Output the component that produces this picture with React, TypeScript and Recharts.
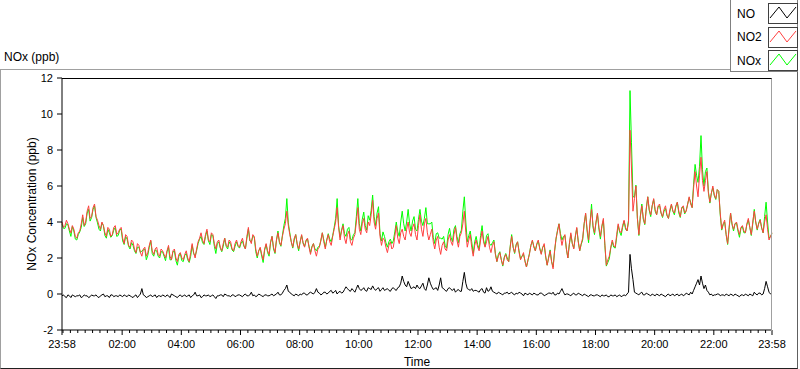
import { Line, LineChart, XAxis, YAxis } from "recharts";

// readings every 3 minutes after 23:58: the *_ON arrays sit on the 6-minute marks,
// the *_MID arrays on the 3-minute marks between them
const STEP = 3;

const NO2_ON = [
  4.0, 3.8, 3.9, 3.4, 3.6, 3.1, 3.5, 4.4, 4.0, 4.9, 4.3, 5.0, 4.1, 3.6, 3.8, 3.2, 3.6, 3.3, 3.8, 3.4,
  3.7, 2.8, 3.2, 2.6, 2.9, 2.3, 2.7, 2.1, 2.6, 2.3, 3.0, 2.2, 2.6, 2.1, 2.4, 2.0, 2.7, 1.9, 2.5, 1.8,
  2.3, 1.9, 2.4, 1.8, 2.8, 2.0, 2.9, 3.4, 2.8, 3.6, 2.9, 3.3, 2.5, 3.0, 2.4, 3.1, 2.6, 2.9, 2.4, 3.0,
  2.6, 3.1, 2.5, 3.7, 2.8, 3.2, 2.1, 2.6, 1.9, 2.8, 2.2, 3.2, 2.3, 3.4, 2.7, 3.6, 4.6, 3.3, 2.6, 3.3,
  2.5, 3.3, 2.6, 3.1, 2.2, 2.8, 2.1, 2.6, 3.4, 2.5, 3.3, 2.7, 3.6, 4.8, 3.0, 3.8, 2.8, 3.5, 2.7, 3.3,
  4.8, 3.3, 4.2, 3.4, 3.8, 5.2, 3.6, 4.5, 2.7, 3.0, 2.3, 2.9, 2.6, 3.8, 2.8, 3.6, 3.0, 4.0, 3.2, 3.9,
  3.0, 4.4, 3.2, 4.2, 3.0, 3.6, 2.5, 3.2, 2.2, 2.9, 2.4, 3.3, 2.7, 3.7, 2.6, 3.4, 4.6, 2.6, 3.3, 2.1,
  3.0, 2.4, 3.5, 2.6, 3.2, 2.3, 2.9, 1.8, 2.3, 1.6, 2.2, 1.8, 3.2, 2.3, 2.9, 1.9, 2.3, 1.5, 2.2, 3.0,
  2.4, 3.0, 2.2, 2.8, 1.6, 2.4, 1.4, 3.1, 3.9, 2.7, 3.3, 2.0, 3.4, 2.5, 3.7, 2.4, 3.1, 4.5, 3.0, 4.7,
  3.4, 4.5, 3.2, 4.2, 1.6, 2.1, 3.0, 2.6, 3.9, 3.4, 4.1, 3.5, 9.1, 4.6, 6.0, 3.3, 4.9, 3.9, 5.4, 4.4,
  5.3, 4.4, 5.0, 4.3, 4.9, 4.2, 5.0, 4.5, 5.1, 4.3, 4.9, 4.6, 5.4, 4.8, 6.8, 5.4, 7.6, 5.7, 6.8, 5.1,
  6.0, 5.3, 5.7, 3.6, 4.1, 2.8, 4.5, 3.6, 4.0, 3.3, 3.8, 3.4, 4.2, 3.3, 4.6, 3.6, 4.1, 3.4, 4.4, 3.0, 3.4,
];
const NO2_MID = [
  3.7, 4.1, 3.6, 3.8, 3.2, 3.4, 3.9, 3.8, 4.6, 4.2, 4.8, 4.3, 3.8, 4.0, 3.4, 3.7, 3.2, 3.7, 3.3, 3.6,
  3.1, 3.3, 2.7, 3.0, 2.5, 2.8, 2.3, 2.5, 2.1, 2.7, 2.4, 2.5, 2.2, 2.5, 2.2, 2.4, 2.1, 2.4, 2.0, 2.2,
  2.0, 2.2, 2.0, 2.3, 2.3, 2.5, 3.1, 3.0, 3.3, 3.0, 3.4, 2.8, 2.9, 2.6, 2.8, 2.7, 3.0, 2.5, 2.8, 2.7,
  2.9, 2.7, 3.2, 3.0, 3.3, 2.5, 2.4, 2.2, 2.5, 2.4, 2.9, 2.6, 3.0, 2.9, 3.2, 3.9, 3.8, 2.9, 3.1, 2.8,
  2.9, 2.8, 3.0, 2.6, 2.6, 2.4, 2.5, 3.0, 2.9, 3.0, 2.9, 3.2, 4.0, 3.7, 3.5, 3.1, 3.3, 2.9, 3.1, 4.0,
  3.6, 3.9, 3.6, 4.0, 4.4, 4.0, 4.2, 3.2, 3.1, 2.6, 2.7, 2.5, 3.2, 3.1, 3.4, 3.2, 3.6, 3.4, 3.7, 3.3,
  3.8, 3.6, 3.9, 3.4, 3.3, 2.9, 3.0, 2.6, 2.7, 2.5, 3.0, 2.9, 3.3, 3.0, 3.2, 3.9, 3.4, 3.0, 2.6, 2.7,
  2.6, 3.0, 2.9, 2.9, 2.6, 2.7, 2.2, 2.1, 1.9, 2.0, 1.9, 2.6, 2.6, 2.7, 2.3, 2.1, 1.8, 1.9, 2.7, 2.6,
  2.8, 2.5, 2.6, 2.1, 2.0, 1.8, 2.4, 3.5, 3.2, 3.1, 2.5, 2.8, 2.8, 3.2, 2.9, 2.8, 3.9, 3.6, 4.0, 3.8,
  4.0, 3.7, 3.8, 2.8, 1.9, 2.6, 2.7, 3.3, 3.5, 3.8, 3.7, 4.0, 7.0, 5.3, 4.2, 4.3, 4.2, 4.7, 4.7, 4.9,
  4.7, 4.9, 4.5, 4.7, 4.4, 4.7, 4.6, 4.9, 4.6, 4.8, 4.5, 5.0, 5.0, 5.9, 6.0, 6.6, 6.3, 6.3, 5.6, 5.6,
  5.5, 5.8, 4.5, 3.9, 3.3, 3.7, 3.9, 3.9, 3.6, 3.7, 3.5, 3.9, 3.7, 4.0, 4.0, 3.9, 3.7, 4.0, 3.6, 3.2,
];

const NOX_ON = [
  3.9, 3.65, 3.85, 3.2, 3.5, 3.0, 3.45, 4.25, 3.9, 4.7, 4.25, 4.9, 3.95, 3.5, 3.8, 3.1, 3.4, 3.25, 3.7, 3.25,
  3.6, 2.75, 3.05, 2.5, 2.7, 2.25, 2.6, 2.4, 2.5, 2.15, 2.95, 2.1, 2.4, 2.0, 2.35, 1.85, 2.6, 1.9, 2.4, 1.6,
  2.25, 1.8, 2.25, 1.75, 2.7, 2.1, 2.8, 3.2, 2.75, 3.5, 2.75, 3.25, 2.25, 2.9, 2.35, 3.1, 2.5, 2.75, 2.35, 2.9,
  2.55, 2.95, 2.5, 3.6, 2.9, 3.15, 2.0, 2.55, 1.75, 2.75, 2.1, 3.2, 2.25, 3.5, 2.65, 3.8, 5.3, 3.4, 2.55, 3.3,
  2.4, 3.25, 2.65, 3.05, 2.3, 2.8, 2.4, 2.65, 3.4, 2.6, 3.35, 2.9, 3.7, 5.3, 3.15, 3.9, 3.2, 3.7, 3.0, 3.4,
  5.3, 3.5, 4.55, 3.55, 4.1, 5.5, 3.8, 4.85, 2.95, 3.2, 2.6, 3.05, 2.95, 4.0, 3.2, 4.6, 3.5, 4.7, 3.5, 4.3,
  3.5, 4.7, 3.8, 4.8, 3.9, 4.0, 2.8, 3.4, 3.1, 3.2, 2.55, 3.65, 2.9, 3.8, 2.85, 3.55, 5.4, 2.9, 3.5, 2.25,
  3.2, 2.5, 3.8, 2.65, 3.35, 2.7, 3.0, 1.8, 2.35, 1.55, 2.25, 1.8, 3.3, 2.25, 2.9, 1.95, 2.2, 1.5, 2.25, 2.95,
  2.4, 2.95, 2.25, 2.7, 1.6, 2.45, 1.5, 3.05, 3.9, 3.0, 3.25, 2.0, 3.3, 2.55, 3.65, 2.4, 3.0, 4.45, 2.85, 5.0,
  3.3, 4.45, 3.05, 4.1, 1.55, 1.95, 2.9, 2.55, 3.8, 3.25, 4.05, 3.5, 11.3, 5.4, 6.05, 3.25, 5.0, 3.85, 5.4, 4.3,
  5.25, 4.4, 4.9, 4.25, 4.75, 4.2, 4.95, 4.4, 5.1, 4.25, 4.8, 4.65, 5.35, 4.8, 7.2, 6.2, 8.8, 6.0, 7.0, 5.05,
  5.9, 5.25, 5.7, 3.55, 4.0, 2.75, 4.5, 3.5, 3.95, 3.15, 3.75, 3.4, 4.1, 3.25, 4.7, 3.55, 4.15, 3.4, 5.1, 3.1, 3.35,
];
const NOX_MID = [
  3.65, 3.9, 3.5, 3.75, 3.05, 3.3, 3.7, 3.75, 4.5, 4.05, 4.7, 4.25, 3.6, 3.95, 3.25, 3.6, 3.15, 3.55, 3.2, 3.55,
  2.95, 3.2, 2.65, 2.85, 2.4, 2.6, 2.3, 2.45, 1.9, 2.6, 2.25, 2.45, 2.1, 2.35, 2.1, 2.35, 1.9, 2.35, 1.85, 2.1,
  1.85, 2.15, 1.9, 2.1, 2.25, 2.4, 3.05, 2.85, 3.2, 2.95, 3.3, 2.65, 2.8, 2.55, 2.65, 2.65, 2.9, 2.45, 2.65, 2.65,
  2.8, 2.65, 3.1, 2.95, 3.2, 2.35, 2.4, 2.1, 2.45, 2.3, 2.85, 2.5, 3.0, 2.85, 3.25, 4.2, 3.95, 2.9, 3.0, 2.75,
  2.9, 2.85, 2.95, 2.65, 2.65, 2.5, 2.6, 2.95, 3.0, 3.0, 3.05, 3.25, 4.2, 3.8, 3.55, 3.35, 3.6, 3.05, 3.3, 4.3,
  3.9, 4.15, 3.8, 4.35, 4.65, 4.3, 4.5, 3.35, 3.45, 2.85, 2.9, 2.8, 3.45, 3.45, 4.0, 3.9, 4.0, 3.9, 4.05, 3.6,
  4.15, 4.05, 4.2, 3.9, 3.9, 3.15, 3.35, 3.1, 3.05, 2.7, 3.3, 3.15, 3.6, 3.2, 3.35, 4.6, 4.0, 3.25, 2.9, 2.9,
  2.75, 3.25, 3.0, 3.25, 2.8, 2.85, 2.25, 2.2, 1.9, 2.05, 2.0, 2.65, 2.6, 2.75, 2.4, 2.1, 1.85, 1.85, 2.7, 2.65,
  2.75, 2.55, 2.6, 2.05, 2.05, 1.8, 2.35, 3.55, 3.35, 3.2, 2.5, 2.75, 2.8, 3.15, 2.95, 2.75, 3.9, 3.5, 3.95, 3.7,
  3.95, 3.6, 3.75, 2.7, 1.75, 2.55, 2.6, 3.15, 3.45, 3.7, 3.6, 4.1, 8.4, 5.4, 4.2, 4.35, 4.15, 4.75, 4.65, 4.9,
  4.6, 4.85, 4.5, 4.6, 4.35, 4.6, 4.6, 4.85, 4.5, 4.8, 4.45, 5.0, 5.1, 6.1, 6.6, 7.1, 6.9, 6.8, 5.7, 5.6,
  5.45, 5.8, 4.4, 3.85, 3.3, 3.6, 3.85, 3.9, 3.5, 3.65, 3.4, 3.85, 3.7, 3.9, 4.0, 3.95, 3.65, 4.3, 4.0, 3.2,
];

const NO_ON = [
  -0.1, -0.15, -0.05, -0.2, -0.1, -0.1, -0.05, -0.15, -0.1, -0.2, -0.05, -0.1, -0.15, -0.1, 0.0, -0.1, -0.2, -0.05, -0.1, -0.15,
  -0.1, -0.05, -0.15, -0.1, -0.2, -0.05, -0.1, 0.3, -0.1, -0.15, -0.05, -0.1, -0.2, -0.1, -0.05, -0.15, -0.1, 0.0, -0.1, -0.2,
  -0.05, -0.1, -0.15, -0.05, -0.1, 0.1, -0.1, -0.2, -0.05, -0.1, -0.15, -0.05, -0.25, -0.1, -0.05, 0.0, -0.1, -0.15, -0.05, -0.1,
  -0.05, -0.15, 0.0, -0.1, 0.1, -0.05, -0.1, -0.05, -0.15, -0.05, -0.1, 0.0, -0.05, 0.1, -0.05, 0.2, 0.5, 0.1, -0.05, 0.0,
  -0.1, -0.05, 0.05, -0.05, 0.1, 0.0, 0.3, 0.05, 0.0, 0.1, 0.05, 0.2, 0.1, 0.0, 0.15, 0.1, 0.4, 0.2, 0.3, 0.1,
  0.5, 0.2, 0.35, 0.15, 0.3, 0.45, 0.2, 0.35, 0.25, 0.2, 0.3, 0.15, 0.35, 0.2, 0.4, 1.0, 0.5, 0.7, 0.3, 0.4,
  0.5, 0.3, 0.6, 0.2, 0.9, 0.4, 0.3, 0.2, 0.9, 0.3, 0.15, 0.35, 0.2, 0.1, 0.25, 0.15, 1.2, 0.3, 0.2, 0.15,
  0.2, 0.1, 0.3, 0.05, 0.15, 0.4, 0.1, 0.0, 0.05, -0.05, 0.05, 0.0, 0.1, -0.05, 0.0, 0.05, -0.1, 0.0, 0.05, -0.05,
  0.0, -0.05, 0.05, -0.1, 0.0, 0.05, 0.1, -0.05, 0.0, 0.3, -0.05, 0.0, -0.1, 0.05, -0.05, 0.0, -0.1, -0.05, -0.15, -0.05,
  -0.1, -0.05, -0.15, -0.1, -0.05, -0.15, -0.1, -0.05, -0.1, -0.15, -0.05, 0.0, 2.2, 0.8, 0.05, -0.05, 0.1, -0.05, 0.0, -0.1,
  -0.05, 0.0, -0.1, -0.05, -0.15, 0.0, -0.05, -0.1, 0.0, -0.05, -0.1, 0.05, -0.05, 0.0, 0.4, 0.8, 1.0, 0.3, 0.2, -0.05,
  -0.1, -0.05, 0.0, -0.05, -0.1, -0.05, 0.0, -0.1, -0.05, -0.15, -0.05, 0.0, -0.1, -0.05, 0.1, -0.05, 0.05, 0.0, 0.7, 0.1, -0.05,
];
const NO_MID = [
  -0.05, -0.2, -0.1, -0.05, -0.15, -0.1, -0.2, -0.05, -0.1, -0.15, -0.1, -0.05, -0.2, -0.05, -0.15, -0.1, -0.05, -0.15, -0.1, -0.05,
  -0.15, -0.1, -0.05, -0.15, -0.1, -0.2, 0.0, -0.05, -0.2, -0.1, -0.15, -0.05, -0.1, -0.15, -0.1, -0.05, -0.2, -0.05, -0.15, -0.1,
  -0.15, -0.05, -0.1, -0.2, -0.05, -0.1, -0.05, -0.15, -0.1, -0.05, -0.1, -0.15, -0.1, -0.05, -0.15, -0.05, -0.1, -0.05, -0.15, -0.05,
  -0.1, -0.05, -0.1, -0.05, -0.1, -0.15, 0.0, -0.1, -0.05, -0.1, -0.05, -0.1, 0.0, -0.05, 0.05, 0.3, 0.15, 0.0, -0.1, -0.05,
  0.0, 0.05, -0.05, 0.05, 0.05, 0.1, 0.1, -0.05, 0.1, 0.0, 0.15, 0.05, 0.2, 0.1, 0.05, 0.25, 0.3, 0.15, 0.2, 0.3,
  0.3, 0.25, 0.2, 0.35, 0.25, 0.3, 0.3, 0.15, 0.35, 0.25, 0.2, 0.3, 0.25, 0.35, 0.6, 0.7, 0.4, 0.5, 0.35, 0.3,
  0.35, 0.45, 0.3, 0.5, 0.6, 0.25, 0.35, 0.5, 0.35, 0.2, 0.3, 0.25, 0.3, 0.2, 0.15, 0.7, 0.6, 0.25, 0.3, 0.2,
  0.15, 0.25, 0.1, 0.35, 0.2, 0.15, 0.05, 0.1, 0.0, 0.05, 0.1, 0.05, 0.0, 0.05, 0.1, 0.0, 0.05, -0.05, 0.0, 0.05,
  -0.05, 0.05, 0.0, -0.05, 0.05, 0.0, -0.05, 0.05, 0.15, 0.1, 0.0, -0.05, 0.0, -0.05, 0.05, -0.05, 0.0, -0.1, -0.05, -0.1,
  -0.05, -0.1, -0.05, -0.1, -0.15, -0.05, -0.1, -0.15, -0.05, -0.1, -0.1, 0.1, 1.4, 0.1, 0.0, 0.05, -0.05, 0.05, -0.05, 0.0,
  -0.1, -0.05, 0.0, -0.1, -0.05, -0.1, 0.0, -0.05, -0.1, 0.0, -0.05, 0.0, 0.1, 0.2, 0.6, 0.5, 0.6, 0.5, 0.1, 0.0,
  -0.05, 0.0, -0.1, -0.05, 0.0, -0.1, -0.05, 0.0, -0.1, -0.05, -0.1, -0.05, 0.0, -0.1, 0.0, 0.05, -0.05, 0.3, 0.4, 0.0,
];

const MAJOR_TICKS = [0, 122, 242, 362, 482, 602, 722, 842, 962, 1082, 1202, 1322, 1440];
const TICK_LABELS = ["23:58", "02:00", "04:00", "06:00", "08:00", "10:00", "12:00", "14:00", "16:00", "18:00", "20:00", "22:00", "23:58"];
const Y_TICKS = [-2, 0, 2, 4, 6, 8, 10, 12];

const SERIES = [
  { key: "nox", name: "NOx", color: "#00ff00" },
  { key: "no2", name: "NO2", color: "#ff4040" },
  { key: "no", name: "NO", color: "#000000" },
];
const LEGEND = [
  { name: "NO", color: "#000000" },
  { name: "NO2", color: "#ff4040" },
  { name: "NOx", color: "#00ff00" },
];

const FONT = '"Liberation Sans", Arial, sans-serif';

const data: { t: number; no: number; no2: number; nox: number }[] = [];
NO2_ON.forEach((v, i) => {
  data.push({ t: i * 2 * STEP, no: NO_ON[i], no2: v, nox: NOX_ON[i] });
  if (i < NO2_MID.length) {
    data.push({ t: (i * 2 + 1) * STEP, no: NO_MID[i], no2: NO2_MID[i], nox: NOX_MID[i] });
  }
});

// quarter-hour minor ticks plus the labelled ones
const xTicks = Array.from(
  new Set([...MAJOR_TICKS, ...Array.from({ length: 96 }, (_, k) => 2 + k * 15)])
).sort((a, b) => a - b);

function TimeTick({ x, y, payload }: any) {
  const idx = MAJOR_TICKS.indexOf(payload.value);
  const major = idx >= 0;
  return (
    <g>
      <line x1={x} x2={x} y1={y} y2={y + (major ? 5 : 3)} stroke="#000" />
      {major && (
        <text x={x} y={y + 18} textAnchor="middle" fontSize={11} fill="#000" fontFamily={FONT}>
          {TICK_LABELS[idx]}
        </text>
      )}
    </g>
  );
}

function Swatch({ color }: { color: string }) {
  return (
    <svg width={28} height={19} style={{ display: "block", border: "1px solid #404040", background: "#fff" }}>
      <polyline points="1,14 10,3 18,14 27,3" fill="none" stroke={color} strokeWidth={1} />
    </svg>
  );
}

export default function App() {
  return (
    <div style={{ position: "absolute", left: 0, top: 0, width: 800, height: 369, background: "#fff", fontFamily: FONT }}>
      <div
        style={{
          position: "absolute", left: 0, top: 69, width: 796, height: 298,
          borderTop: "1px solid #a0a0a0", borderLeft: "1px solid #a0a0a0",
          borderRight: "1px solid #606060", borderBottom: "1px solid #202020",
        }}
      />
      <div style={{ position: "absolute", left: 4, top: 50, fontSize: 12, lineHeight: "14px", color: "#000" }}>NOx (ppb)</div>

      <div style={{ position: "absolute", left: 0, top: 0 }}>
        <LineChart width={800} height={369} data={data} margin={{ top: 78, right: 28, bottom: 9, left: 0 }}>
          <XAxis
            dataKey="t"
            type="number"
            domain={[0, 1440]}
            ticks={xTicks}
            interval={0}
            tick={<TimeTick />}
            tickLine={false}
            tickSize={0}
            tickMargin={0}
            height={30}
            axisLine={{ stroke: "#000" }}
          />
          <YAxis
            type="number"
            domain={[-2, 12]}
            ticks={Y_TICKS}
            interval={0}
            width={62}
            tickSize={5}
            tickMargin={4}
            axisLine={{ stroke: "#000" }}
            tickLine={{ stroke: "#000" }}
            tick={{ fontSize: 11, fill: "#000", fontFamily: FONT }}
          />
          {SERIES.map((s) => (
            <Line
              key={s.key}
              type="linear"
              dataKey={s.key}
              name={s.name}
              stroke={s.color}
              strokeWidth={1}
              dot={false}
              isAnimationActive={false}
            />
          ))}
        </LineChart>
      </div>

      <div
        style={{
          position: "absolute", left: 62, top: 78, width: 709, height: 252,
          borderTop: "1px solid #000", borderRight: "1px solid #a0a0a0", pointerEvents: "none",
        }}
      />
      <div
        style={{
          position: "absolute", left: 32, top: 204, transform: "translate(-50%, -50%) rotate(-90deg)",
          whiteSpace: "nowrap", fontSize: 12, color: "#000",
        }}
      >
        NOx Concentration (ppb)
      </div>
      <div style={{ position: "absolute", left: 417, top: 355, transform: "translateX(-50%)", fontSize: 12, lineHeight: "14px", color: "#000" }}>
        Time
      </div>

      <div
        style={{
          position: "absolute", left: 730, top: 0, width: 66, height: 71,
          border: "1px solid #808080", borderTop: "none", background: "#fff",
        }}
      >
        {LEGEND.map((l, i) => (
          <div key={l.name} style={{ position: "absolute", left: 6, top: 3 + i * 23.5, height: 21, display: "flex", alignItems: "center" }}>
            <span style={{ width: 31, fontSize: 12, color: "#000" }}>{l.name}</span>
            <Swatch color={l.color} />
          </div>
        ))}
      </div>
    </div>
  );
}
